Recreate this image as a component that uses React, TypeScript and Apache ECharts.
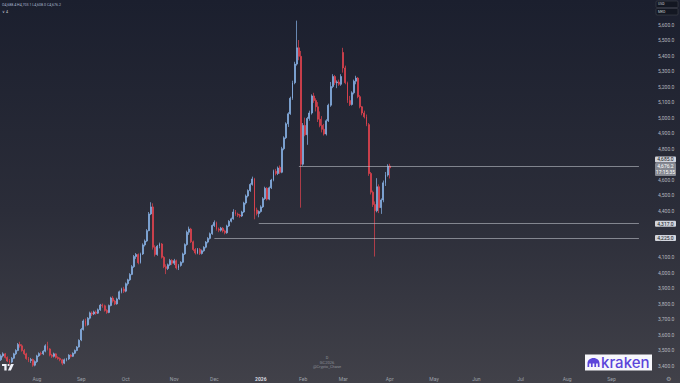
import React, { useEffect, useRef } from "react";
import * as echarts from "echarts";

// ---------- calendar ----------
const FIRST_SESSION = "2025-07-09";
const SESSION_COUNT = 303;
const HOLIDAYS = [
  "2025-09-01", "2025-11-27", "2025-12-25", "2026-01-01", "2026-01-19", "2026-02-16",
  "2026-04-03", "2026-05-25", "2026-06-19", "2026-07-03", "2026-09-07",
];
const MONTH_LABELS = ["2026", "Feb", "Mar", "Apr", "May", "Jun", "Jul", "Aug", "Sep", "Oct", "Nov", "Dec"];

// ---------- daily candles: [open, close, low, high] ----------
const jul2025 = [
  [3440, 3465, 3432, 3475], [3465, 3478, 3455, 3488], [3478, 3455, 3448, 3484], [3455, 3432, 3425, 3462],
  [3432, 3425, 3410, 3445], [3425, 3450, 3418, 3458], [3450, 3478, 3444, 3485], [3478, 3500, 3470, 3508],
  [3500, 3538, 3495, 3548], [3538, 3530, 3518, 3556], [3530, 3500, 3492, 3540], [3500, 3478, 3470, 3510],
  [3478, 3448, 3440, 3485], [3448, 3435, 3425, 3458], [3435, 3442, 3420, 3452], [3442, 3405, 3395, 3448],
  [3405, 3428, 3398, 3436],
];
const aug2025 = [
  [3428, 3465, 3420, 3472], [3465, 3480, 3458, 3488], [3480, 3478, 3468, 3492], [3478, 3495, 3470, 3502],
  [3495, 3530, 3488, 3540], [3530, 3510, 3500, 3556], [3510, 3470, 3462, 3515], [3470, 3462, 3452, 3478],
  [3462, 3478, 3455, 3486], [3478, 3455, 3448, 3482], [3455, 3448, 3440, 3462], [3448, 3440, 3430, 3455],
  [3440, 3418, 3405, 3446], [3418, 3440, 3412, 3448], [3440, 3445, 3430, 3452], [3445, 3470, 3438, 3476],
  [3470, 3462, 3455, 3476], [3462, 3482, 3458, 3488], [3482, 3500, 3476, 3506], [3500, 3522, 3495, 3528],
  [3522, 3565, 3518, 3572],
];
const sep2025 = [
  [3568, 3635, 3560, 3645], [3635, 3690, 3628, 3700], [3690, 3665, 3655, 3705], [3665, 3708, 3660, 3715],
  [3708, 3742, 3700, 3750], [3742, 3735, 3722, 3752], [3735, 3748, 3728, 3756], [3748, 3740, 3730, 3758],
  [3740, 3762, 3735, 3770], [3762, 3792, 3755, 3800], [3792, 3788, 3775, 3802], [3788, 3758, 3750, 3795],
  [3758, 3745, 3736, 3766], [3745, 3790, 3740, 3796], [3790, 3838, 3784, 3846], [3838, 3818, 3808, 3850],
  [3818, 3800, 3792, 3826], [3800, 3832, 3795, 3840], [3832, 3878, 3826, 3886], [3878, 3896, 3868, 3904],
  [3896, 3882, 3870, 3910],
];
const oct2025 = [
  [3882, 3930, 3875, 3938], [3930, 3955, 3918, 3962], [3955, 3990, 3948, 3998], [3990, 4040, 3985, 4050],
  [4040, 4105, 4032, 4115], [4105, 4118, 4090, 4128], [4118, 4065, 4055, 4125], [4065, 4122, 4060, 4130],
  [4122, 4180, 4115, 4190], [4180, 4205, 4170, 4215], [4205, 4272, 4198, 4282], [4272, 4380, 4268, 4392],
  [4380, 4425, 4372, 4455], [4425, 4165, 4150, 4448], [4165, 4118, 4105, 4178], [4118, 4172, 4110, 4180],
  [4172, 4186, 4158, 4195], [4186, 4100, 4092, 4192], [4100, 4040, 4030, 4108], [4040, 4028, 3992, 4055],
  [4028, 4052, 4018, 4060], [4052, 4080, 4045, 4090], [4080, 4062, 4050, 4088],
];
const nov2025 = [
  [4062, 4078, 4050, 4090], [4078, 4032, 4022, 4085], [4032, 4048, 4018, 4056], [4048, 4068, 4040, 4075],
  [4068, 4122, 4062, 4130], [4122, 4182, 4115, 4190], [4182, 4262, 4175, 4272], [4262, 4282, 4245, 4298],
  [4282, 4200, 4192, 4290], [4200, 4150, 4140, 4208], [4150, 4128, 4118, 4160], [4128, 4152, 4120, 4160],
  [4152, 4125, 4115, 4160], [4125, 4142, 4118, 4150], [4142, 4165, 4136, 4172], [4165, 4198, 4158, 4205],
  [4198, 4222, 4190, 4230], [4222, 4252, 4215, 4260], [4252, 4305, 4245, 4312],
];
const dec2025 = [
  [4305, 4325, 4295, 4338], [4325, 4282, 4272, 4330], [4282, 4275, 4262, 4292], [4275, 4288, 4266, 4296],
  [4288, 4270, 4260, 4295], [4270, 4258, 4248, 4278], [4258, 4302, 4252, 4310], [4302, 4332, 4296, 4340],
  [4332, 4348, 4325, 4356], [4348, 4392, 4342, 4410], [4392, 4378, 4368, 4405], [4378, 4372, 4360, 4388],
  [4372, 4366, 4355, 4380], [4366, 4392, 4360, 4400], [4392, 4450, 4386, 4458], [4450, 4495, 4440, 4505],
  [4495, 4530, 4486, 4538], [4530, 4570, 4522, 4578], [4570, 4605, 4562, 4620], [4605, 4395, 4345, 4612],
  [4405, 4382, 4370, 4420], [4382, 4395, 4358, 4402],
];
const jan2026 = [
  [4395, 4425, 4388, 4435], [4425, 4478, 4418, 4488], [4478, 4545, 4470, 4555], [4545, 4475, 4466, 4552],
  [4475, 4548, 4468, 4556], [4548, 4598, 4540, 4606], [4598, 4655, 4590, 4665], [4655, 4640, 4628, 4670],
  [4640, 4675, 4630, 4685], [4680, 4648, 4638, 4692], [4648, 4800, 4642, 4812], [4800, 4870, 4790, 4880],
  [4870, 4960, 4862, 4970], [4960, 5025, 4940, 5035], [5025, 5125, 5018, 5135], [5125, 5225, 5115, 5238],
  [5225, 5345, 5215, 5360], [5345, 5450, 5335, 5625], [5450, 5395, 5370, 5500], [5395, 4700, 4420, 5430],
];
const feb2026 = [
  [4700, 4950, 4690, 4965], [4950, 4890, 4880, 5000], [4890, 4995, 4825, 5005], [4995, 5030, 4980, 5045],
  [5030, 5140, 5020, 5150], [5140, 5110, 5095, 5160], [5110, 5070, 5040, 5125], [5070, 4990, 4972, 5100],
  [4990, 4950, 4938, 5040], [4950, 4925, 4905, 5010], [4925, 4895, 4885, 4960], [4895, 4980, 4885, 4990],
  [4980, 5080, 4972, 5090], [5080, 5200, 5070, 5230], [5200, 5265, 5190, 5280], [5265, 5225, 5210, 5275],
  [5225, 5230, 5190, 5240], [5230, 5215, 5205, 5245], [5215, 5265, 5205, 5280],
];
const mar2026 = [
  [5420, 5320, 5290, 5450], [5320, 5225, 5215, 5335], [5225, 5110, 5095, 5232], [5110, 5085, 5075, 5140],
  [5085, 5160, 5078, 5170], [5160, 5235, 5150, 5245], [5235, 5255, 5215, 5270], [5255, 5135, 5125, 5262],
  [5135, 5070, 5060, 5145], [5070, 5030, 5015, 5075], [5030, 5005, 4995, 5045], [5005, 4955, 4945, 5020],
  [4955, 4640, 4625, 4965], [4640, 4520, 4505, 4650], [4520, 4440, 4425, 4530], [4440, 4400, 4105, 4460],
  [4400, 4555, 4390, 4610], [4555, 4420, 4385, 4570], [4420, 4470, 4380, 4480], [4470, 4580, 4455, 4595],
  [4580, 4630, 4560, 4650], [4630, 4688, 4620, 4700],
];
const apr2026 = [[4688.4, 4676.2, 4608.0, 4703.1]];

// ---------- horizontal levels ----------
const LEVEL_VALUES = [4685, 4317, 4225];
const LEVEL_STARTS = ["2026-01-29", "2025-12-31", "2025-12-01"];
const LAST_PRICE = 4676.2;
const COUNTDOWN = "17:15:35";

// ---------- price scale ----------
const Y_MIN = 3300;
const Y_MAX = 5700;
const Y_STEP = 100;
const HIDDEN_TICKS = [3300, 5700, 4700, 4300, 4200];

const UP = "#8ab5ea";
const DOWN = "#e5434f";
const FONT = "Roboto";

const TV_PATH = "M0 0H14V22H7V7H0Z M23.5 3.5A3.5 3.5 0 1 1 16.5 3.5A3.5 3.5 0 1 1 23.5 3.5Z M27 0H36L27 22H18Z";
const KRAKEN_PATH = "M0 10L0 6C0 2.5 3 0 7 0C11 0 14 2.5 14 6L14 10L12 10L12 6L10 6L10 10L8 10L8 6L6 6L6 10L4 10L4 6L2 6L2 10Z";
echarts.graphic.registerShape("tvLogo", echarts.graphic.extendPath(TV_PATH, {}));
echarts.graphic.registerShape("krakenIcon", echarts.graphic.extendPath(KRAKEN_PATH, {}));

function buildSessions(): string[] {
  const out: string[] = [];
  const d = new Date(FIRST_SESSION + "T00:00:00Z");
  while (out.length < SESSION_COUNT) {
    const iso = d.toISOString().slice(0, 10);
    const wd = d.getUTCDay();
    if (wd !== 0 && wd !== 6 && !HOLIDAYS.includes(iso)) out.push(iso);
    d.setUTCDate(d.getUTCDate() + 1);
  }
  return out;
}

const fmt = (v: number) =>
  v.toLocaleString("en-US", { minimumFractionDigits: 1, maximumFractionDigits: 1 });

export default function App() {
  const ref = useRef<HTMLDivElement>(null);

  useEffect(() => {
    if (!ref.current) return;
    const chart = echarts.init(ref.current, undefined, { renderer: "svg" });
    const sessions = buildSessions();
    const monthStart = sessions.map((s, i) => i > 0 && s.slice(0, 7) !== sessions[i - 1].slice(0, 7));
    const candles = [
      ...jul2025, ...aug2025, ...sep2025, ...oct2025, ...nov2025, ...dec2025,
      ...jan2026, ...feb2026, ...mar2026, ...apr2026,
    ];
    const lastSession = sessions[sessions.length - 1];

    chart.setOption({
      animation: false,
      backgroundColor: "transparent",
      textStyle: { fontFamily: FONT },
      grid: [
        { left: 0, right: 40, top: 9, bottom: 1.5 },
        { left: 0, right: 40, top: 0, bottom: 9 },
      ],
      xAxis: [
        { type: "category", gridIndex: 0, data: sessions, show: false, boundaryGap: true },
        {
          type: "category",
          gridIndex: 1,
          data: sessions,
          boundaryGap: true,
          axisLine: { show: false },
          axisTick: { show: false },
          splitLine: { show: false },
          axisLabel: {
            interval: (i: number) => monthStart[i],
            margin: 2,
            fontSize: 5,
            color: "#9ea1aa",
            fontFamily: FONT,
            formatter: (v: string) => {
              const m = parseInt(v.slice(5, 7), 10) - 1;
              return m === 0 ? "{y|" + MONTH_LABELS[0] + "}" : MONTH_LABELS[m];
            },
            rich: { y: { fontSize: 5, fontWeight: "bold", color: "#d8dae0", fontFamily: FONT } },
          },
        },
      ],
      yAxis: [
        {
          type: "value",
          gridIndex: 0,
          position: "right",
          min: Y_MIN,
          max: Y_MAX,
          interval: Y_STEP,
          axisLine: { show: false },
          axisTick: { show: false },
          splitLine: { show: false },
          axisLabel: {
            margin: 18,
            fontSize: 5,
            color: "#b4b7bf",
            fontFamily: FONT,
            formatter: (v: number) => (HIDDEN_TICKS.includes(v) ? "" : fmt(v)),
          },
        },
        { type: "value", gridIndex: 1, show: false },
      ],
      series: [
        {
          type: "candlestick",
          xAxisIndex: 0,
          yAxisIndex: 0,
          data: candles,
          barWidth: 1.4,
          itemStyle: {
            color: UP,
            color0: DOWN,
            borderColor: UP,
            borderColor0: DOWN,
            borderWidth: 0.7,
          },
          markLine: {
            silent: true,
            symbol: ["none", "none"],
            label: { show: false },
            lineStyle: { color: "rgba(190,193,202,0.75)", width: 0.8, type: "solid" },
            data: LEVEL_VALUES.map((v, i) => [
              { coord: [LEVEL_STARTS[i], v] },
              { coord: [lastSession, v] },
            ]),
          },
        },
      ],
    });

    const py = (v: number) => chart.convertToPixel({ yAxisIndex: 0 }, v) as number;
    const yCur = py(LAST_PRICE);
    const boxX = 655;
    const boxW = 21;
    const priceBox = (top: number, h: number, fill: string) => ({
      type: "rect",
      shape: { x: boxX, y: top, width: boxW, height: h, r: 1 },
      style: { fill },
      z: 50,
    });
    const priceText = (cy: number, text: string, fill: string) => ({
      type: "text",
      x: boxX + boxW / 2,
      y: cy,
      style: { text, fill, fontSize: 5, fontFamily: FONT, align: "center", verticalAlign: "middle" },
      z: 51,
    });
    const curTop = yCur - 5;
    const levelTop = curTop - 6.5;

    const graphics: any[] = [
      priceBox(levelTop, 6, "#d1d4dc"),
      priceText(levelTop + 3, fmt(LEVEL_VALUES[0]), "#131722"),
      priceBox(curTop, 13, "#858891"),
      priceText(curTop + 3.2, fmt(LAST_PRICE), "#ffffff"),
      priceText(curTop + 9.4, COUNTDOWN, "#ffffff"),
      priceBox(py(LEVEL_VALUES[1]) - 3, 6, "#d1d4dc"),
      priceText(py(LEVEL_VALUES[1]), fmt(LEVEL_VALUES[1]), "#131722"),
      priceBox(py(LEVEL_VALUES[2]) - 3, 6, "#d1d4dc"),
      priceText(py(LEVEL_VALUES[2]), fmt(LEVEL_VALUES[2]), "#131722"),
      {
        type: "text",
        left: 2,
        top: 3,
        style: {
          text: `O${fmt(apr2026[0][0])} H${fmt(apr2026[0][3])} L${fmt(apr2026[0][2])} C${fmt(apr2026[0][1])}`,
          fill: "#aab6cc",
          fontSize: 3.6,
          fontFamily: FONT,
        },
      },
      {
        type: "text",
        left: 2,
        top: 10,
        style: { text: "∨ 4", fill: "#c8cbd3", fontSize: 3.6, fontFamily: FONT },
      },
      {
        type: "rect",
        shape: { x: 656, y: 1, width: 22, height: 6.5, r: 1 },
        style: { fill: "#131722", stroke: "#4a4d57", lineWidth: 0.5 },
      },
      {
        type: "text",
        x: 658,
        y: 4.3,
        style: { text: "USD", fill: "#c8cbd3", fontSize: 3.4, fontFamily: FONT, verticalAlign: "middle" },
      },
      {
        type: "rect",
        shape: { x: 656, y: 8.5, width: 22, height: 6.5, r: 1 },
        style: { fill: "#131722", stroke: "#4a4d57", lineWidth: 0.5 },
      },
      {
        type: "text",
        x: 658,
        y: 11.8,
        style: { text: "MKO", fill: "#c8cbd3", fontSize: 3.4, fontFamily: FONT, verticalAlign: "middle" },
      },
      {
        type: "text",
        x: 327,
        y: 357,
        style: { text: "D", fill: "#8b8e97", fontSize: 4, fontFamily: FONT, align: "center", verticalAlign: "middle" },
      },
      {
        type: "text",
        x: 327,
        y: 362,
        style: { text: "GC2026", fill: "#8b8e97", fontSize: 4, fontFamily: FONT, align: "center", verticalAlign: "middle" },
      },
      {
        type: "text",
        x: 327,
        y: 366.5,
        style: { text: "@Crypto_Chase", fill: "#8b8e97", fontSize: 4, fontFamily: FONT, align: "center", verticalAlign: "middle" },
      },
      {
        type: "tvLogo",
        x: 2,
        y: 364,
        scaleX: 0.33,
        scaleY: 0.3,
        style: { fill: "#f0f3fa" },
      },
      {
        type: "text",
        x: 668,
        y: 378.5,
        style: { text: "⚙", fill: "#9ea1aa", fontSize: 6, align: "center", verticalAlign: "middle" },
      },
      {
        type: "rect",
        shape: { x: 585, y: 354.5, width: 67, height: 16 },
        style: { fill: "#f7f7fb" },
      },
      {
        type: "krakenIcon",
        x: 587.5,
        y: 358,
        scaleX: 0.86,
        scaleY: 0.9,
        style: { fill: "#5b45da" },
      },
      {
        type: "text",
        x: 601,
        y: 362.5,
        style: {
          text: "kraken",
          fill: "#5b45da",
          fontSize: 15,
          fontFamily: "Inter",
          fontWeight: 500,
          verticalAlign: "middle",
        },
      },
    ];
    chart.setOption({ graphic: graphics });

    return () => chart.dispose();
  }, []);

  return (
    <div
      ref={ref}
      style={{
        position: "fixed",
        left: 0,
        top: 0,
        width: 680,
        height: 383,
        background: "linear-gradient(to bottom, #1b1f2e 0%, #2b2d39 55%, #414149 100%)",
      }}
    />
  );
}
